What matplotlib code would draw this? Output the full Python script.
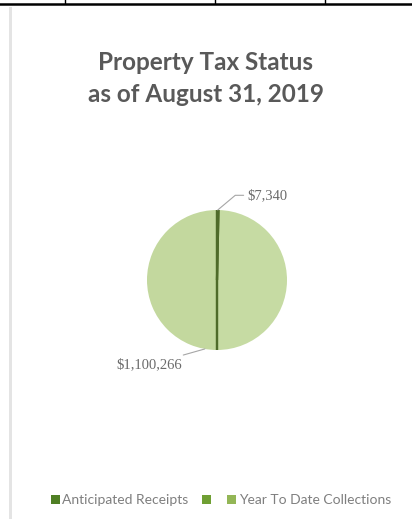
import numpy as np
import matplotlib.pyplot as plt
from matplotlib.patches import Patch, Rectangle
from matplotlib.lines import Line2D

# data
categories = ['Anticipated Receipts', '', 'Year To Date Collections']
amounts = [1100266, 1092926, 7340]
label_text = ['$1,100,266', '', '$7,340']
slice_colors = ['#c3d89e', '#c6dba3', '#4f6b2a']
legend_colors = ['#4f7f24', '#6f9f33', '#93b656']

W, H = 412, 519
fig = plt.figure(figsize=(W / 100, H / 100), dpi=100)
fig.patch.set_facecolor('white')

# bits of the table above the chart
fig.add_artist(Line2D([0, 1], [1 - 3.5 / H, 1 - 3.5 / H], color='black', lw=1.8))
for xv in [65, 215, 325]:
    fig.add_artist(Line2D([xv / W, xv / W], [1 - 3 / H, 1], color='black', lw=1.0))

# chart area with a soft left shadow
fig.add_artist(Rectangle((9 / W, 0), 4 / W, 1 - 7 / H, transform=fig.transFigure,
                         facecolor='#e4e4e4', edgecolor='none', zorder=-2))
fig.add_artist(Rectangle((12 / W, 0), 1 - 12 / W, 1 - 7 / H, transform=fig.transFigure,
                         facecolor='white', edgecolor='none', zorder=-1))

fig.text(206 / W, 1 - 62 / H, 'Property Tax Status', ha='center', va='center',
         fontsize=17.5, fontweight='bold', family='Lato', color='#595959')
fig.text(206 / W, 1 - 94 / H, 'as of August 31, 2019', ha='center', va='center',
         fontsize=17.5, fontweight='bold', family='Lato', color='#595959')

# pie: centre (217, 280) px, radius 70 px
cx, cy, r = 217, 280, 70
ax = fig.add_axes([(cx - r) / W, 1 - (cy + r) / H, 2 * r / W, 2 * r / H])
order = [2, 1, 0]
wedges, _ = ax.pie([amounts[i] for i in order], colors=[slice_colors[i] for i in order],
                   startangle=90, counterclock=False, radius=1,
                   wedgeprops=dict(linewidth=0))
ax.set_xlim(-1, 1)
ax.set_ylim(-1, 1)
ax.set_aspect('equal')
ax.axis('off')

# dark dividing lines along wedge edges
for w in wedges:
    for th in (w.theta1, w.theta2):
        ax.plot([0, np.cos(np.radians(th))], [0, np.sin(np.radians(th))],
                color='#4f6b2a', lw=1.6, solid_capstyle='butt')

# data labels with leader lines
ytd = wedges[0]
mid = np.radians((ytd.theta1 + ytd.theta2) / 2)
ax.annotate(label_text[2], xy=(np.cos(mid), np.sin(mid)), xytext=(0.44, 1.21),
            ha='left', va='center', fontsize=10.5, family='Liberation Serif', color='#6b6b6b',
            annotation_clip=False,
            arrowprops=dict(arrowstyle='-', color='#a6a6a6', lw=0.8, shrinkA=1, shrinkB=0,
                            connectionstyle='angle,angleA=180,angleB=40,rad=0'))
ant = wedges[2]
ang = np.radians(ant.theta2 - 10)
ax.annotate(label_text[0], xy=(np.cos(ang), np.sin(ang)), xytext=(-0.50, -1.21),
            ha='right', va='center', fontsize=10.5, family='Liberation Serif', color='#6b6b6b',
            annotation_clip=False,
            arrowprops=dict(arrowstyle='-', color='#a6a6a6', lw=0.8, shrinkA=1, shrinkB=0))

handles = [Patch(facecolor=c, edgecolor='none') for c in legend_colors]
fig.legend(handles, categories, loc='center', bbox_to_anchor=(221 / W, 1 - 500 / H),
           ncol=3, frameon=False, handlelength=0.6, handleheight=0.6,
           handletextpad=0.2, columnspacing=1.0, labelcolor='#7f7f7f',
           prop=dict(family='Lato', size=10))

fig.savefig('out.png', dpi=100)
